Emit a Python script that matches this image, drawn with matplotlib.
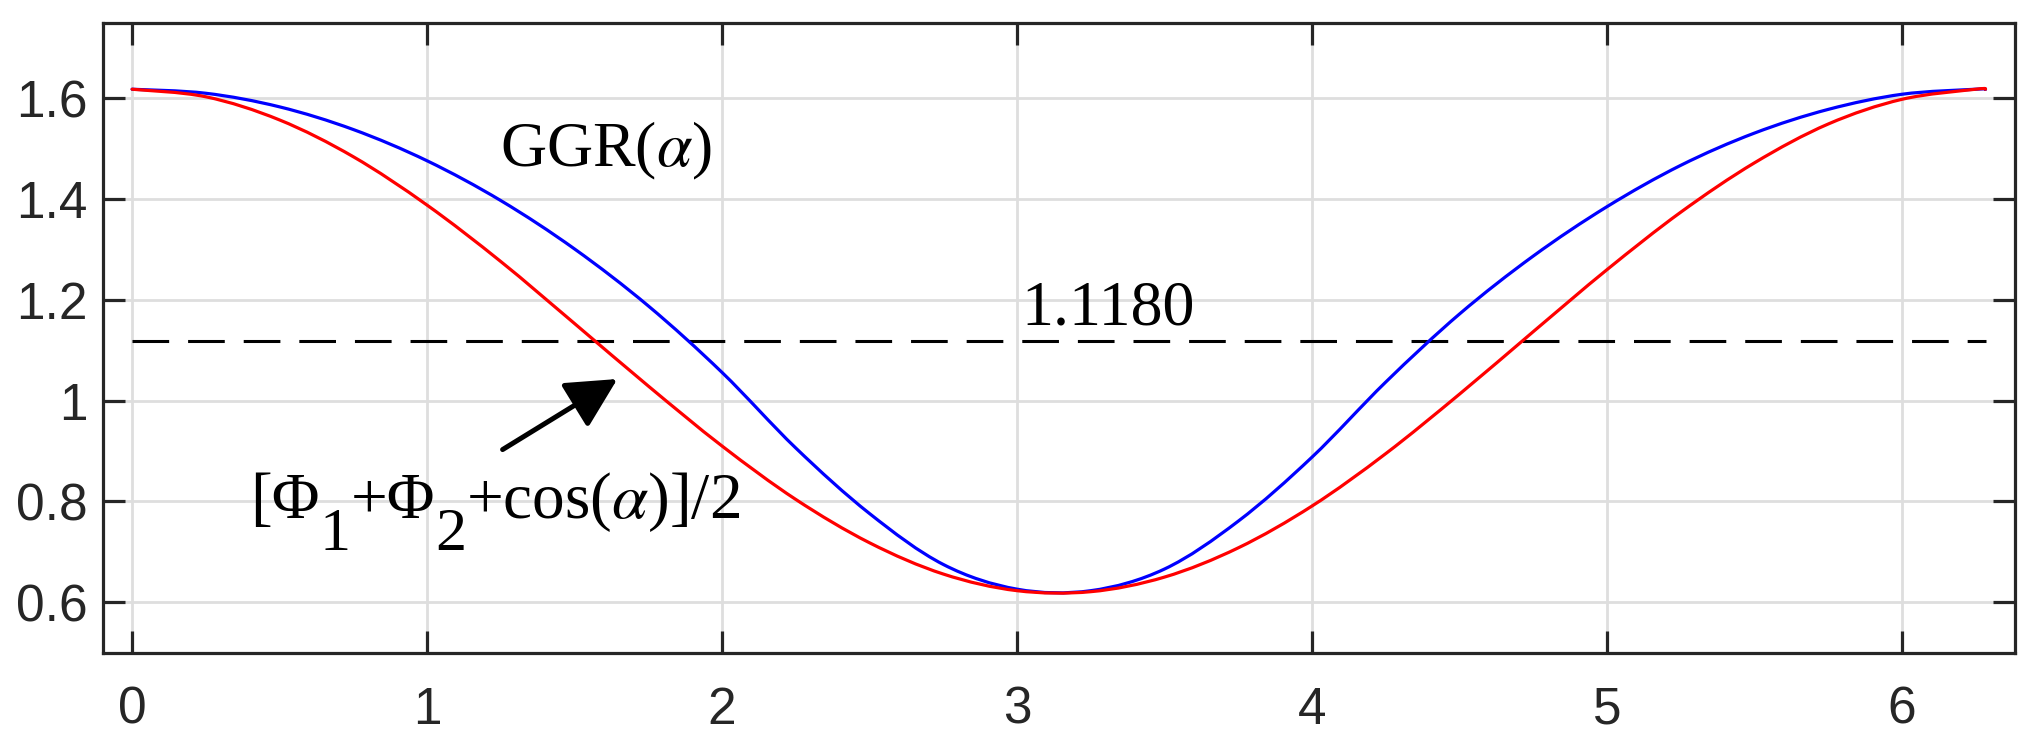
import matplotlib
matplotlib.use("Agg")
import matplotlib.pyplot as plt
from matplotlib.patches import FancyArrowPatch, ArrowStyle, PathPatch
from matplotlib.path import Path

# ---- data ----
alpha = [0.0, 0.25, 0.5, 0.75, 1.0, 1.25, 1.5, 1.75, 2.0, 2.25, 2.5, 2.75, 3.0,
         3.25, 3.5, 3.75, 4.0, 4.25, 4.5, 4.75, 5.0, 5.25, 5.5, 5.75, 6.0, 6.25, 6.2832]
ggr = [1.618, 1.610, 1.583, 1.538, 1.476, 1.397, 1.301, 1.188, 1.056, 0.906, 0.776, 0.675, 0.626,
       0.623, 0.666, 0.761, 0.888, 1.037, 1.172, 1.287, 1.385, 1.467, 1.531, 1.578, 1.608, 1.618, 1.618]
approx = [1.618, 1.603, 1.557, 1.484, 1.388, 1.276, 1.153, 1.029, 0.910, 0.804, 0.718, 0.656, 0.623,
          0.621, 0.650, 0.708, 0.791, 0.895, 1.013, 1.137, 1.260, 1.374, 1.472, 1.549, 1.598, 1.618, 1.618]
ref_level = 1.1180
ref_x = [0.0, 6.2832]
x_ticks = [0, 1, 2, 3, 4, 5, 6]
x_ticklabels = ["0", "1", "2", "3", "4", "5", "6"]
y_ticks = [0.6, 0.8, 1.0, 1.2, 1.4, 1.6]
y_ticklabels = ["0.6", "0.8", "1", "1.2", "1.4", "1.6"]
label_ggr = r"GGR($\alpha$)"
label_level = "1.1180"


def smooth_path(xs, ys):
    """Smooth curve through the given points (Catmull-Rom drawn as cubic Bezier)."""
    n = len(xs)
    verts = [(xs[0], ys[0])]
    codes = [Path.MOVETO]
    for i in range(n - 1):
        i0 = max(i - 1, 0)
        i3 = min(i + 2, n - 1)
        c1 = (xs[i] + (xs[i + 1] - xs[i0]) / 6.0, ys[i] + (ys[i + 1] - ys[i0]) / 6.0)
        c2 = (xs[i + 1] - (xs[i3] - xs[i]) / 6.0, ys[i + 1] - (ys[i3] - ys[i]) / 6.0)
        verts += [c1, c2, (xs[i + 1], ys[i + 1])]
        codes += [Path.CURVE4] * 3
    return Path(verts, codes)


plt.rcParams["mathtext.fontset"] = "stix"
DPI = 100
fig = plt.figure(figsize=(20.28, 7.42), dpi=DPI)
ax = fig.add_axes([0.0506, 0.1204, 0.9430, 0.8490])

axis_col = "#262626"
ax.set_xlim(-0.1, 6.3832)
ax.set_ylim(0.5, 1.75)
ax.set_axisbelow(True)
ax.grid(True, color="#dedede", linewidth=2.0)

ax.plot(ref_x, [ref_level, ref_level], color="black", linewidth=2.2,
        linestyle=(0, (12, 6.2)), zorder=3)
ax.add_patch(PathPatch(smooth_path(alpha, ggr), facecolor="none", edgecolor="#0000ff",
                       linewidth=2.3, zorder=4, capstyle="round", joinstyle="round"))
ax.add_patch(PathPatch(smooth_path(alpha, approx), facecolor="none", edgecolor="#ff0000",
                       linewidth=2.3, zorder=5, capstyle="round", joinstyle="round"))

ax.set_xticks(x_ticks)
ax.set_xticklabels(x_ticklabels)
ax.set_yticks(y_ticks)
ax.set_yticklabels(y_ticklabels)
for s in ax.spines.values():
    s.set_linewidth(2.3)
    s.set_color(axis_col)
ax.tick_params(axis="both", direction="in", length=15.5, width=2.3, color=axis_col,
               labelcolor=axis_col, top=True, right=True, labelsize=37)
ax.tick_params(axis="x", pad=24)
ax.tick_params(axis="y", pad=11)
for lab in ax.get_xticklabels() + ax.get_yticklabels():
    lab.set_fontfamily("Liberation Sans")

serif = "Liberation Serif"
fs = 46
ax.text(1.247, 1.465, label_ggr, fontsize=fs, family=serif, ha="left", va="baseline", zorder=6)
ax.text(3.015, 1.152, label_level, fontsize=fs, family=serif, ha="left", va="baseline", zorder=6)

# formula with lowered subscripts, built from pieces
fs2 = 47
pieces = [("[\u03A6", fs2, 0.0), ("1", fs2 * 0.95, -22.8), ("+\u03A6", fs2, 0.0),
          ("2", fs2 * 0.95, -22.8), (r"+cos($\alpha$)]/2", fs2, 0.0)]
renderer = fig.canvas.get_renderer()
xoff = 0.0
for txt, size, dy in pieces:
    t = ax.annotate(txt, xy=(0.399, 0.767), xycoords="data", xytext=(xoff, dy),
                    textcoords="offset points", fontsize=size, family=serif,
                    ha="left", va="baseline", zorder=6)
    w = t.get_window_extent(renderer).width * 72.0 / DPI
    xoff += w

arrow = FancyArrowPatch(posA=(1.256, 0.903), posB=(1.645, 1.043),
                        arrowstyle=ArrowStyle("-|>", head_length=31, head_width=16),
                        mutation_scale=1, linewidth=3.6, color="black",
                        shrinkA=0, shrinkB=0, zorder=7)
ax.add_patch(arrow)

fig.savefig("out.png", dpi=DPI)
